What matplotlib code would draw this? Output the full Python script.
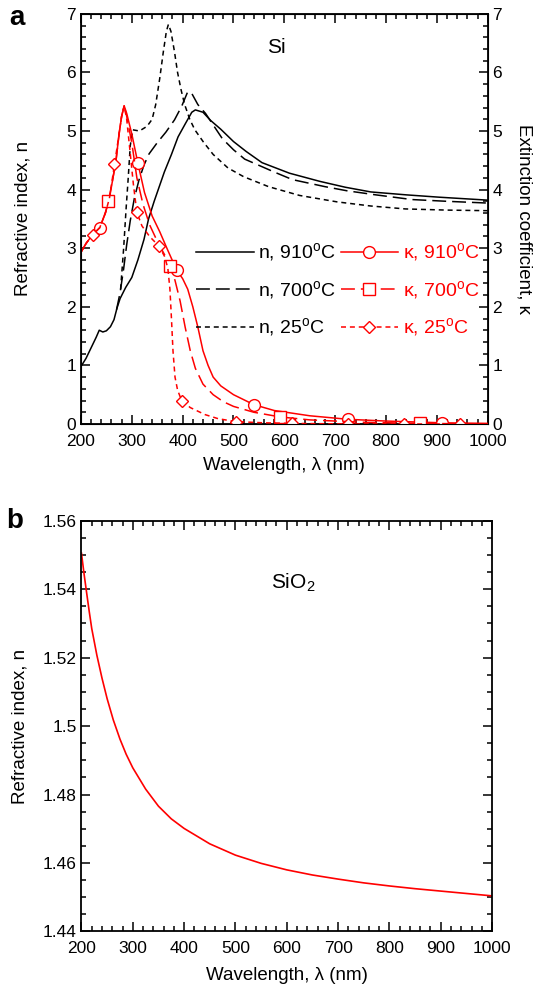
import numpy as np
import matplotlib
matplotlib.use("Agg")
import matplotlib.pyplot as plt
from matplotlib.ticker import MultipleLocator, FormatStrFormatter

plt.rcParams['font.family'] = ['Liberation Sans', 'DejaVu Sans']
plt.rcParams['mathtext.fontset'] = 'custom'
plt.rcParams['mathtext.rm'] = 'Liberation Sans'
plt.rcParams['lines.scale_dashes'] = False

# refractive index n of Si (left axis)
wl_n910 = [200, 210, 220, 230, 236, 243, 250, 258, 265, 271, 277, 288, 300, 312, 324, 333, 344,
           354, 364, 378, 391, 405, 418, 425, 440, 455, 475, 500, 525, 556, 610, 670, 720, 770,
           840, 905, 1000]
n910 = [0.98, 1.12, 1.3, 1.48, 1.6, 1.57, 1.59, 1.66, 1.78, 1.98, 2.14, 2.33, 2.5, 2.8, 3.15, 3.5,
        3.8, 4.05, 4.3, 4.6, 4.9, 5.12, 5.32, 5.36, 5.32, 5.18, 5.03, 4.82, 4.65, 4.46, 4.28, 4.14,
        4.04, 3.96, 3.91, 3.87, 3.82]

wl_n700 = [270, 277, 284, 290, 297, 305, 314, 324, 334, 350, 367, 384, 398, 410, 418, 430, 445,
           458, 478, 500, 522, 580, 616, 680, 723, 780, 851, 920, 1000]
n700 = [1.95, 2.24, 2.65, 3.06, 3.47, 3.85, 4.16, 4.42, 4.61, 4.8, 4.98, 5.19, 5.42, 5.67, 5.64,
        5.45, 5.3, 5.13, 4.87, 4.68, 4.52, 4.3, 4.17, 4.05, 3.98, 3.91, 3.83, 3.8, 3.77]

wl_n25 = [278, 284, 289, 293, 297, 302, 315, 330, 340, 347, 355, 362, 368, 372, 377, 384, 390,
          397, 404, 414, 424, 441, 460, 489, 520, 569, 630, 704, 770, 838, 920, 1000]
n25 = [2.3, 3.0, 3.7, 4.2, 4.75, 5.02, 5.0, 5.08, 5.2, 5.45, 5.9, 6.35, 6.7, 6.82, 6.7, 6.35, 6.0,
       5.7, 5.45, 5.2, 5.02, 4.81, 4.6, 4.37, 4.22, 4.05, 3.9, 3.79, 3.72, 3.67, 3.65, 3.64]

# extinction coefficient kappa of Si (right axis)
wl_k910 = [200, 210, 222, 237, 248, 256, 262, 269, 275, 280, 285, 290, 300, 312, 325, 340, 355,
           370, 388, 400, 410, 420, 430, 440, 450, 460, 475, 500, 540, 580, 650, 725, 800, 910, 1000]
k910 = [2.93, 3.08, 3.22, 3.35, 3.6, 3.85, 4.15, 4.5, 4.95, 5.25, 5.43, 5.3, 4.95, 4.45, 3.95, 3.55,
        3.28, 2.98, 2.63, 2.48, 2.3, 2.0, 1.65, 1.25, 1.0, 0.8, 0.65, 0.5, 0.33, 0.23, 0.14, 0.08,
        0.05, 0.02, 0.01]
k910_marks = [237, 312, 388, 540, 725, 910]

wl_k700 = [200, 210, 222, 237, 248, 254, 262, 269, 275, 280, 285, 290, 300, 310, 322, 335, 350,
           365, 375, 385, 395, 405, 415, 425, 440, 460, 480, 500, 540, 592, 650, 750, 866, 1000]
k700 = [2.93, 3.08, 3.22, 3.35, 3.6, 3.8, 4.15, 4.5, 4.95, 5.25, 5.43, 5.25, 4.8, 4.2, 3.75, 3.4,
        3.12, 2.88, 2.7, 2.45, 2.1, 1.65, 1.25, 0.95, 0.68, 0.5, 0.38, 0.3, 0.2, 0.12, 0.07, 0.03,
        0.01, 0.0]
k700_marks = [254, 375, 592, 866]

wl_k25 = [200, 210, 223, 237, 248, 256, 266, 275, 280, 285, 290, 296, 303, 310, 320, 335, 354,
          365, 371, 375, 378, 381, 385, 390, 398, 415, 444, 470, 505, 560, 615, 725, 836, 946, 1000]
k25 = [2.93, 3.08, 3.23, 3.35, 3.6, 3.85, 4.43, 4.95, 5.25, 5.43, 5.2, 4.7, 4.1, 3.61, 3.38, 3.2,
       3.03, 2.85, 2.65, 2.3, 1.8, 1.25, 0.8, 0.58, 0.4, 0.28, 0.16, 0.09, 0.04, 0.02, 0.01, 0.0,
       0.0, 0.0, 0.0]
k25_marks = [223, 266, 310, 354, 398, 505, 615, 725, 836, 946]

# refractive index of SiO2
wl_sio2 = [200, 205, 210, 215, 220, 230, 240, 250, 262, 275, 287, 300, 325, 350, 375, 400, 450,
           500, 550, 600, 650, 700, 750, 800, 850, 900, 950, 1000]
n_sio2 = [1.5505, 1.5445, 1.539, 1.5336, 1.5285, 1.5207, 1.514, 1.5080, 1.5018, 1.4962, 1.4918,
          1.4878, 1.4816, 1.4766, 1.4729, 1.4701, 1.4656, 1.4623, 1.4599, 1.4580, 1.4565, 1.4553,
          1.4542, 1.4533, 1.4525, 1.4518, 1.4511, 1.4504]

SHORT = (0, (3.6, 2.8))
LONG = (0, (10, 4.3))
RED = '#ff0000'


def style_axis(ax, xminor, ymajor, yminor):
    ax.set_xlim(200, 1000)
    ax.xaxis.set_major_locator(MultipleLocator(100))
    ax.xaxis.set_minor_locator(MultipleLocator(xminor))
    ax.yaxis.set_major_locator(MultipleLocator(ymajor))
    ax.yaxis.set_minor_locator(MultipleLocator(yminor))
    ax.tick_params(which='both', direction='in', top=True, labelsize=12.5, width=1.1)
    ax.tick_params(which='major', length=6.5)
    ax.tick_params(which='minor', length=3.8)
    ax.tick_params(axis='x', which='major', pad=7)
    for s in ax.spines.values():
        s.set_linewidth(1.3)


def marks_idx(wl, marks):
    return list(np.flatnonzero(np.isin(wl, marks)))


fig = plt.figure(figsize=(5.36, 9.86), dpi=100)

# ---- panel a ----
ax = fig.add_axes([0.151, 0.570, 0.759, 0.416])
ax2 = ax.twinx()

la1, = ax.plot(wl_n910, n910, color='black', lw=1.1, ls='-', label=r'n, 910$^{\rm o}$C')
la2, = ax.plot(wl_n700, n700, color='black', lw=1.1, ls=LONG, label=r'n, 700$^{\rm o}$C')
la3, = ax.plot(wl_n25, n25, color='black', lw=1.1, ls=SHORT, label=r'n, 25$^{\rm o}$C')

lk1, = ax2.plot(wl_k910, k910, color=RED, lw=1.1, ls='-', marker='o', ms=8.5, mfc='white',
                mew=1.0, markevery=marks_idx(wl_k910, k910_marks), label=r'κ, 910$^{\rm o}$C')
lk2, = ax2.plot(wl_k700, k700, color=RED, lw=1.1, ls=LONG, marker='s', ms=8.5, mfc='white',
                mew=1.0, markevery=marks_idx(wl_k700, k700_marks), label=r'κ, 700$^{\rm o}$C')
lk3, = ax2.plot(wl_k25, k25, color=RED, lw=1.1, ls=SHORT, marker='D', ms=6, mfc='white',
                mew=1.0, markevery=marks_idx(wl_k25, k25_marks), label=r'κ, 25$^{\rm o}$C')

style_axis(ax, 20, 1, 0.2)
ax.set_ylim(0, 7)
ax2.set_ylim(0, 7)
ax2.yaxis.set_major_locator(MultipleLocator(1))
ax2.yaxis.set_minor_locator(MultipleLocator(0.2))
ax2.tick_params(which='both', direction='in', labelsize=12.5, width=1.1)
ax2.tick_params(which='major', length=6.5)
ax2.tick_params(which='minor', length=3.8)
ax.set_xlabel('Wavelength, λ (nm)', fontsize=13.5, labelpad=6)
ax.set_ylabel('Refractive index, n', fontsize=13.5, labelpad=25)
ax2.set_ylabel('Extinction coefficient, κ', fontsize=13.5, rotation=270, labelpad=22)
ax.text(0.48, 0.918, 'Si', transform=ax.transAxes, fontsize=15, ha='center', va='center')

leg1 = ax2.legend(handles=[la1, la2, la3], loc='center left', bbox_to_anchor=(0.283, 0.326),
                  frameon=False, fontsize=14, handlelength=3.0, handletextpad=0.2,
                  labelspacing=0.75, borderpad=0, borderaxespad=0)
ax2.add_artist(leg1)
ax2.legend(handles=[lk1, lk2, lk3], loc='center left', bbox_to_anchor=(0.64, 0.326),
           frameon=False, fontsize=14, handlelength=2.9, handletextpad=0.25,
           labelspacing=0.75, borderpad=0, borderaxespad=0, labelcolor=RED)

fig.text(0.018, 0.995, 'a', fontsize=20, fontweight='bold', va='top')

# ---- panel b ----
bx = fig.add_axes([0.152, 0.0553, 0.766, 0.4166])
bx.plot(wl_sio2, n_sio2, color=RED, lw=1.2)
style_axis(bx, 20, 0.02, 0.005)
bx.tick_params(which='both', right=True)
bx.set_ylim(1.44, 1.56)
bx.yaxis.set_major_formatter(FormatStrFormatter('%g'))
bx.set_xlabel('Wavelength, λ (nm)', fontsize=13.5, labelpad=8)
bx.set_ylabel('Refractive index, n', fontsize=13.5, labelpad=10)
bx.text(0.515, 0.85, r'SiO$_{\rm 2}$', transform=bx.transAxes, fontsize=15,
        ha='center', va='center')

fig.text(0.012, 0.485, 'b', fontsize=20, fontweight='bold', va='top')

fig.savefig('out.png', dpi=100)
